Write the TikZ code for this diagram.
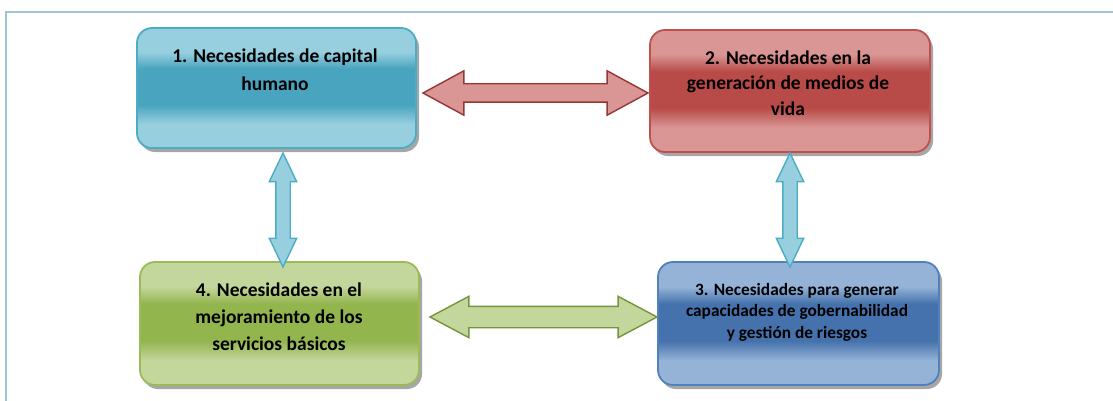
\documentclass[tikz,border=0pt]{standalone}
\usepackage{fontspec}
\setmainfont{Carlito}
\usetikzlibrary{shapes.arrows,shadows,calc}
\definecolor{frameblue}{HTML}{9CC6D4}
\definecolor{aqB}{HTML}{4BACC6}
\definecolor{aqL}{HTML}{98CFDF}
\definecolor{aqM}{HTML}{48A4BF}
\definecolor{rdB}{HTML}{C0504D}
\definecolor{rdL}{HTML}{D99694}
\definecolor{rdM}{HTML}{B84B48}
\definecolor{rdD}{HTML}{953735}
\definecolor{grB}{HTML}{9BBB59}
\definecolor{grL}{HTML}{C3D69B}
\definecolor{grM}{HTML}{93B54E}
\definecolor{grD}{HTML}{77933C}
\definecolor{blB}{HTML}{4F81BD}
\definecolor{blL}{HTML}{95B3D7}
\definecolor{blM}{HTML}{4572AC}
\pgfdeclareverticalshading{aqshade}{100bp}{color(0bp)=(aqL); color(35bp)=(aqL); color(43bp)=(aqM); color(58bp)=(aqM); color(65bp)=(aqL); color(100bp)=(aqL)}
\pgfdeclareverticalshading{rdshade}{100bp}{color(0bp)=(rdL); color(35bp)=(rdL); color(43bp)=(rdM); color(58bp)=(rdM); color(65bp)=(rdL); color(100bp)=(rdL)}
\pgfdeclareverticalshading{grshade}{100bp}{color(0bp)=(grL); color(35bp)=(grL); color(43bp)=(grM); color(58bp)=(grM); color(65bp)=(grL); color(100bp)=(grL)}
\pgfdeclareverticalshading{blshade}{100bp}{color(0bp)=(blL); color(35bp)=(blL); color(43bp)=(blM); color(58bp)=(blM); color(65bp)=(blL); color(100bp)=(blL)}
\begin{document}
\begin{tikzpicture}[x=1pt,y=-1pt,
  box/.style={rounded corners=15pt, line width=1.8pt, inner sep=0pt,
    drop shadow={shadow xshift=3pt, shadow yshift=-4pt, opacity=0.35, fill=black}},
  lbl/.style={align=center, inner sep=0pt, text=black},
  darrow/.style={double arrow, inner xsep=0pt, minimum width=0pt, line width=1.4pt},
]
\useasboundingbox (0,0) rectangle (1113,401);
% frame
\draw[frameblue, line width=1.5pt] (6,401) coordinate (fb) -- (6,12) coordinate (fc) -- (1113,12) coordinate (fr);

% boxes
\node[box, draw=aqB, shading=aqshade,
  minimum width=279, minimum height=120] (b1) at (276.5,88) {};
\node[box, draw=rdB, shading=rdshade,
  minimum width=280, minimum height=122] (b2) at (790,91) {};
\node[box, draw=grB, shading=grshade,
  minimum width=279, minimum height=123] (b4) at (279.5,323.5) {};
\node[box, draw=blB, shading=blshade,
  minimum width=281, minimum height=123] (b3) at (798.5,323.5) {};

% labels
\node[lbl, font=\bfseries\fontsize{19.5}{28}\selectfont] (t1) at (275,70)
  {1. Necesidades de capital\\humano};
\node[lbl, font=\bfseries\fontsize{19.5}{25.5}\selectfont] (t2) at (788,83)
  {2. Necesidades en la\\generación de medios de\\vida};
\node[lbl, font=\bfseries\fontsize{19.5}{27}\selectfont] (t4) at (279,317)
  {4. Necesidades en el\\mejoramiento de los\\servicios básicos};
\node[lbl, font=\bfseries\fontsize{17.3}{21.5}\selectfont] (t3) at (797,312)
  {3. Necesidades para generar\\capacidades de gobernabilidad\\y gestión de riesgos};

% arrows
\node[darrow, fill=rdL, draw=rdD, minimum height=225, inner ysep=8.5pt,
  double arrow head extend=13, double arrow tip angle=57] (a12) at (535.5,93) {};
\node[darrow, fill=grL, draw=grD, minimum height=227, inner ysep=10pt,
  double arrow head extend=10, double arrow tip angle=56] (a43) at (543.5,317) {};
\node[darrow, fill=aqL, draw=aqB, rotate=90, minimum height=114, inner ysep=6.5pt,
  double arrow head extend=6.5, double arrow tip angle=51] (a14) at (283,210) {};
\node[darrow, fill=aqL, draw=aqB, rotate=90, minimum height=114, inner ysep=6.5pt,
  double arrow head extend=6.5, double arrow tip angle=51] (a23) at (790,210) {};
\end{tikzpicture}
\end{document}
